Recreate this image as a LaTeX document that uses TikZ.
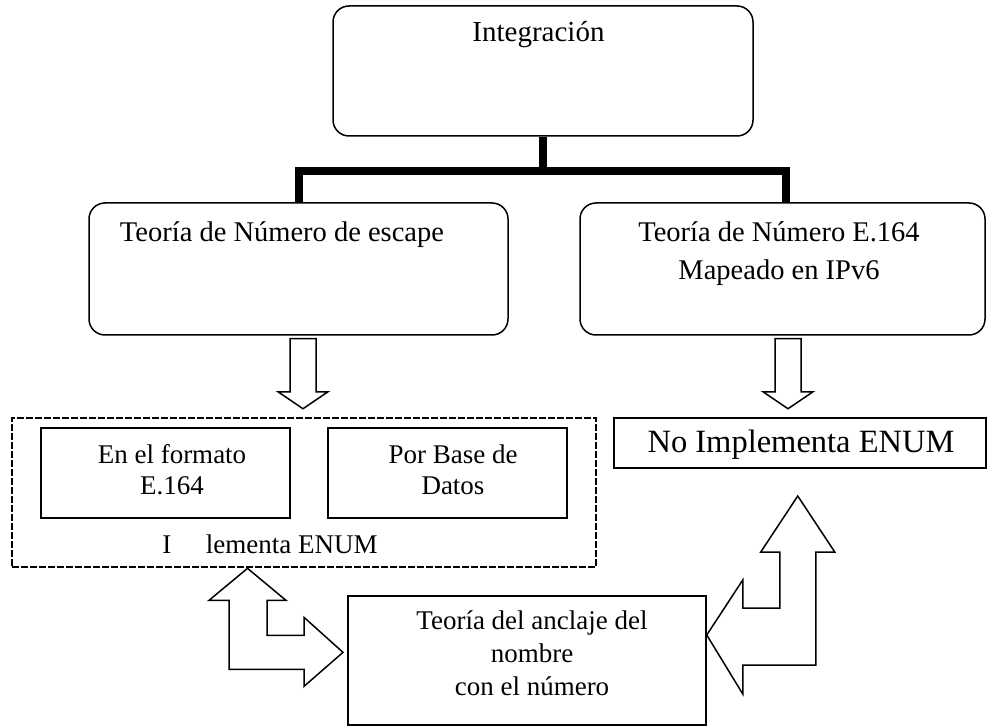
\documentclass[tikz,border=0pt]{standalone}
\usepackage{fontspec}
\setmainfont{Liberation Serif}
\newcommand{\boxlines}[1]{\begin{tabular}[t]{@{}c@{}}#1\end{tabular}}

\begin{document}
\begin{tikzpicture}[x=1pt, y=-1pt,
    roundbox/.style ={draw, rounded corners=16pt, line width=1.5pt, inner sep=0pt},
    plainbox/.style ={draw, line width=1.5pt, inner sep=0pt},
    dashbox/.style ={draw, line width=2.7pt, dash pattern=on 7pt off 2pt, inner sep=0pt},
    txt/.style ={anchor=base, inner sep=0pt, font=\fontsize{27}{31}\selectfont},
    bar/.style ={line width=8pt},
    hollow/.style ={draw, line width=1.5pt, line join=miter}]
   \useasboundingbox (0,0) rectangle (988,727);

   \node[roundbox, minimum width=420pt, minimum height=130pt] (integ) at (543,71) {};
   \node[roundbox, minimum width=419pt, minimum height=132pt] (escape) at (298.5,269) {};
   \node[roundbox, minimum width=405pt, minimum height=132pt] (mapped) at (782.5,269) {};
   \node[dashbox, minimum width=584pt, minimum height=149pt] (enum) at (304,492.5) {};
   \node[plainbox, minimum width=249pt, minimum height=90pt] (e164) at (165.5,473) {};
   \node[plainbox, minimum width=239pt, minimum height=90pt] (database) at (447.5,473) {};
   \node[plainbox, minimum width=372pt, minimum height=50pt] (noenum) at (800,443) {};
   \node[plainbox, minimum width=358pt, minimum height=129pt] (anchoring) at (527,660.5) {};

   \node[txt, font=\fontsize{29}{38}\selectfont] (integtxt) at (538.5,42) {Integración};
   \node[txt, font=\fontsize{28.5}{38}\selectfont] (escapetxt) at (282,242) {Teoría de Número de escape};
   \node[txt, font=\fontsize{28.5}{38}\selectfont] (mappedtxt) at (779,242) {\boxlines{Teoría de Número E.164\\Mapeado en IPv6}};
   \node[txt] (e164txt) at (172,463) {\boxlines{En el formato\\E.164}};
   \node[txt] (databasetxt) at (453,463) {\boxlines{Por Base de\\Datos}};
   \node[txt] (enumtxt) at (270,553) {I\phantom{mp}lementa ENUM};
   \node[txt, font=\fontsize{32.5}{38}\selectfont] (noenumtxt) at (801,452) {No Implementa ENUM};
   \node[txt, font=\fontsize{27}{33}\selectfont] (anchoringtxt) at (532,629) {\boxlines{Teoría del anclaje del\\nombre\\con el número}};

   \draw[bar] (integ.south) -- ++(0,34) coordinate (fork);
   \draw[bar] (escape.north) |- (fork) -| ([xshift=3pt]mapped.north);

   \draw[hollow] ([xshift=4.5pt, yshift=-3pt]escape.south) ++(-13,0) -- ++(0,53) -- ++(-12,0) -- ++(25,17) -- ++(25,-17) -- ++(-12,0) -- ++(0,-53) -- cycle;
   \draw[hollow] ([xshift=5.5pt, yshift=-3pt]mapped.south) ++(-13,0) -- ++(0,53) -- ++(-12,0) -- ++(25,17) -- ++(25,-17) -- ++(-12,0) -- ++(0,-53) -- cycle;

   \draw[hollow] ([xshift=-56.5pt]enum.south) -- ++(38.5,32) -- ++(-19,0) -- ++(0,35) -- ++(37,0) -- ++(0,-18) -- ++(39,35) -- ++(-39,34) -- ++(0,-17) -- ++(-75,0) -- ++(0,-69) -- ++(-20,0) -- cycle;
   \draw[hollow] ([yshift=25.5pt]anchoring.east) -- ++(36,-55) -- ++(0,28) -- ++(37,0) -- ++(0,-56) -- ++(-19,0) -- ++(37,-56) -- ++(37,56) -- ++(-19,0) -- ++(0,113) -- ++(-73,0) -- ++(0,29) -- cycle;

\end{tikzpicture}
\end{document}
